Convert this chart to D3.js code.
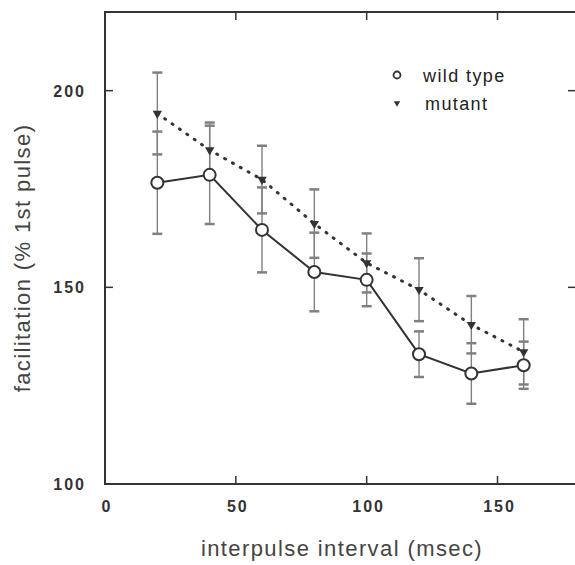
<!DOCTYPE html>
<html>
<head>
<meta charset="utf-8">
<script src="https://cdn.jsdelivr.net/npm/d3@7"></script>
<style>
  body { margin: 0; background: #fff; }
  .tick-label { font-family: "Liberation Sans", Arial, sans-serif; font-size: 16px; font-weight: bold; fill: #333; letter-spacing: 2px; }
  .axis-title { font-family: "Liberation Sans", Arial, sans-serif; font-size: 22px; fill: #444; letter-spacing: 1.4px; }
  .legend-text { font-family: "Liberation Sans", Arial, sans-serif; font-size: 18px; fill: #222; letter-spacing: 1.4px; }
</style>
</head>
<body>
<div id="chart"></div>
<script>
// interval (msec)
const intervals = [20, 40, 60, 80, 100, 120, 140, 160];

// wild type mean + error
const wildMean = [176.6, 178.6, 164.6, 153.9, 151.9, 133.0, 128.1, 130.2];
const wildErr  = [13.0, 12.5, 10.8, 10.0, 6.7, 5.8, 7.7, 6.0];

// mutant mean + error
const mutantMean = [194.2, 184.9, 177.4, 166.2, 156.2, 149.4, 140.5, 133.6];
const mutantErr  = [10.4, 7.0, 8.6, 8.7, 7.5, 8.0, 7.3, 8.3];

const xTicks = [0, 50, 100, 150];
const yTicks = [100, 150, 200];

const width = 575, height = 565;
const margin = {top: 12, left: 105, bottom: 81, right: -1};

const svg = d3.select("#chart").append("svg")
    .attr("width", width)
    .attr("height", height);

const x = d3.scaleLinear().domain([0, 180]).range([margin.left, width - margin.right]);
const y = d3.scaleLinear().domain([100, 220]).range([height - margin.bottom, margin.top]);

const ink = "#333";
const tickLen = 8;

// frame
svg.append("rect")
    .attr("x", x(0)).attr("y", y(220))
    .attr("width", x(180) - x(0)).attr("height", y(100) - y(220))
    .attr("fill", "none").attr("stroke", ink).attr("stroke-width", 2);

// inward ticks on all four sides
xTicks.filter(t => t > 0).forEach(t => {
    svg.append("line").attr("x1", x(t)).attr("x2", x(t))
        .attr("y1", y(100)).attr("y2", y(100) - tickLen)
        .attr("stroke", ink).attr("stroke-width", 1.5);
    svg.append("line").attr("x1", x(t)).attr("x2", x(t))
        .attr("y1", y(220)).attr("y2", y(220) + tickLen)
        .attr("stroke", ink).attr("stroke-width", 1.5);
});
yTicks.filter(t => t > 100).forEach(t => {
    svg.append("line").attr("x1", x(0)).attr("x2", x(0) + tickLen)
        .attr("y1", y(t)).attr("y2", y(t))
        .attr("stroke", ink).attr("stroke-width", 1.5);
    svg.append("line").attr("x1", x(180)).attr("x2", x(180) - tickLen)
        .attr("y1", y(t)).attr("y2", y(t))
        .attr("stroke", ink).attr("stroke-width", 1.5);
});

// tick labels
svg.selectAll(".xlab").data(xTicks).enter().append("text")
    .attr("class", "tick-label")
    .attr("x", d => x(d) + 2)
    .attr("y", y(100) + 28)
    .attr("text-anchor", "middle")
    .text(d => d);

svg.selectAll(".ylab").data(yTicks).enter().append("text")
    .attr("class", "tick-label")
    .attr("x", x(0) - 19)
    .attr("y", d => y(d) + 6)
    .attr("text-anchor", "end")
    .text(d => d);

// axis titles
svg.append("text").attr("class", "axis-title")
    .attr("x", 342).attr("y", 556)
    .attr("text-anchor", "middle")
    .text("interpulse interval (msec)");

svg.append("text").attr("class", "axis-title")
    .attr("transform", "translate(30," + 258 + ") rotate(-90)")
    .attr("text-anchor", "middle")
    .text("facilitation (% 1st pulse)");

// error bars
function errorBars(means, errs) {
    const g = svg.append("g").attr("stroke", "#808080").attr("stroke-width", 1.4);
    intervals.forEach((t, i) => {
        const top = y(means[i] + errs[i]), bot = y(means[i] - errs[i]);
        g.append("line").attr("x1", x(t)).attr("x2", x(t)).attr("y1", top).attr("y2", bot);
        g.append("line").attr("x1", x(t) - 5).attr("x2", x(t) + 5).attr("y1", top).attr("y2", top).attr("stroke-width", 2.5);
        g.append("line").attr("x1", x(t) - 5).attr("x2", x(t) + 5).attr("y1", bot).attr("y2", bot).attr("stroke-width", 2.5);
    });
}
errorBars(mutantMean, mutantErr);
errorBars(wildMean, wildErr);

const line = d3.line().x(d => x(d[0])).y(d => y(d[1]));

// mutant dotted line
svg.append("path")
    .datum(intervals.map((t, i) => [t, mutantMean[i]]))
    .attr("d", line)
    .attr("fill", "none").attr("stroke", ink)
    .attr("stroke-width", 3).attr("stroke-linecap", "round")
    .attr("stroke-dasharray", "1,8");

// wild type solid line
svg.append("path")
    .datum(intervals.map((t, i) => [t, wildMean[i]]))
    .attr("d", line)
    .attr("fill", "none").attr("stroke", ink).attr("stroke-width", 2);

// mutant triangles
const tri = d3.symbol().type(d3.symbolTriangle).size(38);
svg.selectAll(".tri").data(intervals).enter().append("path")
    .attr("d", tri)
    .attr("transform", (d, i) => "translate(" + x(d) + "," + y(mutantMean[i]) + ") rotate(180)")
    .attr("fill", ink);

// wild type circles
svg.selectAll(".circ").data(intervals).enter().append("circle")
    .attr("cx", d => x(d))
    .attr("cy", (d, i) => y(wildMean[i]))
    .attr("r", 6)
    .attr("fill", "#fff").attr("stroke", ink).attr("stroke-width", 2);

// legend
svg.append("circle").attr("cx", 397).attr("cy", 75).attr("r", 3.5)
    .attr("fill", "#fff").attr("stroke", ink).attr("stroke-width", 1.8);
svg.append("path").attr("d", d3.symbol().type(d3.symbolTriangle).size(18))
    .attr("transform", "translate(397,103) rotate(180)").attr("fill", ink);
svg.append("text").attr("class", "legend-text").attr("x", 423).attr("y", 82).text("wild type");
svg.append("text").attr("class", "legend-text").attr("x", 425).attr("y", 110).text("mutant");
</script>
</body>
</html>
